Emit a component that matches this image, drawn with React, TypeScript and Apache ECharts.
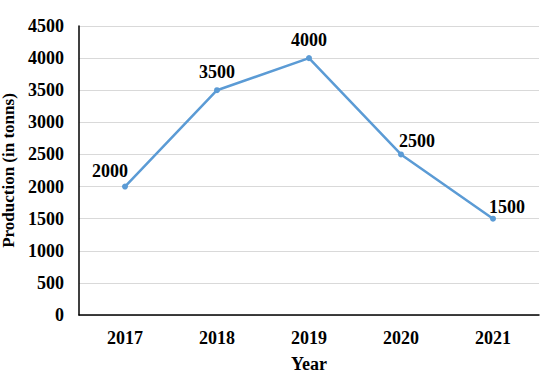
import React, { useEffect, useRef } from "react";
import * as echarts from "echarts";

const years = ["2017", "2018", "2019", "2020", "2021"];
const production = [2000, 3500, 4000, 2500, 1500];
const yTicks = { min: 0, max: 4500, interval: 500 };
const labelOffsets: [number, number][] = [
  [-15, -16],
  [0, -18],
  [0, -18],
  [16, -13],
  [14, -12],
];

const FONT = "Liberation Serif";

export default function App() {
  const ref = useRef<HTMLDivElement>(null);
  useEffect(() => {
    if (!ref.current) return;
    const chart = echarts.init(ref.current, undefined, { renderer: "svg" });
    chart.setOption({
      animation: false,
      backgroundColor: "#ffffff",
      grid: { left: 79, right: 5, top: 26, bottom: 66, containLabel: false, outerBoundsMode: "none" },
      xAxis: {
        type: "category",
        data: years,
        boundaryGap: true,
        name: "Year",
        nameLocation: "middle",
        nameGap: 40,
        nameTextStyle: { fontFamily: FONT, fontWeight: "bold", fontSize: 18, color: "#000" },
        axisLine: { lineStyle: { color: "#000", width: 1.5 } },
        axisTick: { show: false },
        axisLabel: { fontFamily: FONT, fontWeight: "bold", fontSize: 18, color: "#000", margin: 14 },
        splitLine: { show: false },
      },
      yAxis: {
        type: "value",
        min: yTicks.min,
        max: yTicks.max,
        interval: yTicks.interval,
        name: "Production (in tonns)",
        nameLocation: "middle",
        nameGap: 61,
        nameTextStyle: { fontFamily: FONT, fontWeight: "bold", fontSize: 17, color: "#000" },
        axisLine: { show: true, lineStyle: { color: "#000", width: 1.5 } },
        axisTick: { show: false },
        axisLabel: {
          fontFamily: FONT,
          fontWeight: "bold",
          fontSize: 18,
          color: "#000",
          margin: 15,
          formatter: (v: number) => String(v),
        },
        splitLine: { show: true, lineStyle: { color: "#d9d9d9", width: 1 } },
      },
      series: [
        {
          type: "line",
          data: production.map((v, i) => ({
            value: v,
            label: { offset: labelOffsets[i] },
          })),
          lineStyle: { color: "#5b9bd5", width: 2.5 },
          itemStyle: { color: "#5b9bd5" },
          symbol: "circle",
          symbolSize: 6,
          label: {
            show: true,
            position: "inside",
            fontFamily: FONT,
            fontWeight: "bold",
            fontSize: 18,
            color: "#000",
          },
        },
      ],
    });
    return () => chart.dispose();
  }, []);
  return (
    <div
      ref={ref}
      style={{ position: "fixed", left: 0, top: 0, width: 544, height: 381 }}
    />
  );
}
